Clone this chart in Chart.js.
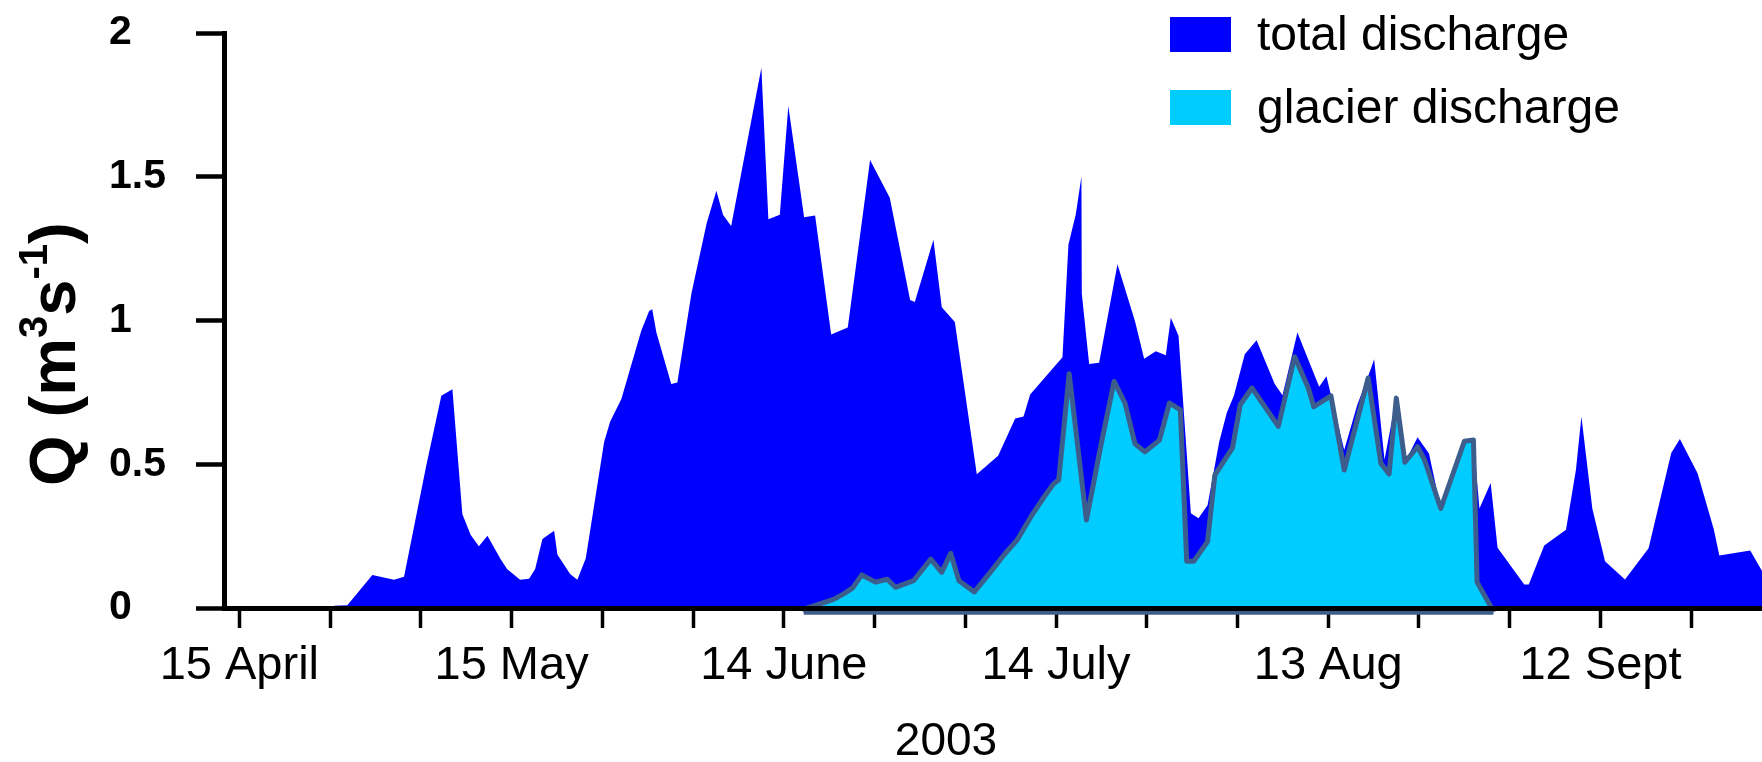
<!DOCTYPE html>
<html>
	<head>
		<meta charset="UTF-8">
		<title>total and glacier discharge 2003</title>
		<script src="https://cdn.jsdelivr.net/npm/chart.js"></script>
		<style>
		   *{padding: 0; margin: 0;}
		   body{background: #fff;}
		   #box{width: 1762px; height: 762px;}
		</style>
	</head>
	<body>
	<div id="box">
		<canvas id="myChart"></canvas>
	</div>
	<script>
	// x = days after 15 April 2003, y = Q (m3/s)
	const totalDay = [-1.7, 10.4, 10.45, 11.9, 14.66, 17.05, 18.15, 20.6, 22.26, 23.48, 24.58, 25.5, 26.4, 27.34, 28.8, 29.5,
		30.94, 31.93, 32.6, 33.4, 34.69, 35.05, 36.45, 37.25, 38.18, 40.2, 40.86, 42.1, 44.3, 45.16, 45.5, 45.96,
		47.6, 48.27, 49.82, 51.5, 52.57, 53.3, 54.2, 57.53, 58.3, 59.56, 60.5, 62.24, 63.45, 65.22, 67.05, 69.51,
		71.68, 73.92, 74.44, 76.49, 77.41, 78.85, 81.27, 83.62, 85.5, 86.42, 87.15, 90.71, 91.37, 92.18, 92.8, 92.84,
		93.65, 94.75, 96.77, 98.72, 99.71, 101.0, 102.1, 102.65, 103.5, 104.86, 105.7, 106.7, 107.98, 108.82, 109.6, 110.8,
		112.1, 114.1, 114.96, 116.6, 119.0, 119.8, 121.76, 123.2, 124.5, 125.06, 126.2, 127.5, 128.5, 129.84, 131.1, 132.4,
		135.0, 136.0, 136.66, 137.9, 138.66, 141.6, 142.1, 143.8, 146.2, 147.3, 147.9, 149.1, 150.5, 152.7, 155.3, 157.8,
		158.75, 160.7, 162.5, 163.1, 166.5, 167.8];
	const totalQ = [0, 0, 0.008, 0.01, 0.115, 0.098, 0.109, 0.496, 0.738, 0.761, 0.326, 0.254, 0.215, 0.251, 0.17, 0.136,
		0.098, 0.102, 0.136, 0.24, 0.269, 0.186, 0.118, 0.098, 0.173, 0.577, 0.648, 0.727, 0.965, 1.033, 1.039, 0.958,
		0.779, 0.784, 1.094, 1.338, 1.451, 1.368, 1.329, 1.879, 1.352, 1.368, 1.746, 1.359, 1.365, 0.951, 0.976, 1.558,
		1.427, 1.071, 1.064, 1.281, 1.046, 0.995, 0.465, 0.53, 0.659, 0.666, 0.743, 0.872, 1.264, 1.37, 1.501, 1.094,
		0.849, 0.853, 1.196, 0.996, 0.867, 0.893, 0.879, 1.01, 0.947, 0.33, 0.3125, 0.357, 0.577, 0.679, 0.738, 0.883,
		0.931, 0.779, 0.74, 0.958, 0.77, 0.806, 0.55, 0.707, 0.815, 0.865, 0.516, 0.734, 0.51, 0.594, 0.537, 0.346,
		0.584, 0.59, 0.346, 0.435, 0.21, 0.0815, 0.0815, 0.217, 0.272, 0.482, 0.666, 0.346, 0.163, 0.099, 0.208, 0.539,
		0.588, 0.469, 0.272, 0.183, 0.2, 0.129];

	const glacierDay = [62.2, 62.6, 65.5, 66.65, 67.6, 68.6, 70.1, 71.4, 72.3, 74.3, 76.2, 77.4, 78.4, 79.3, 81.0, 82.6,
		84.3, 85.75, 87.4, 88.7, 89.7, 90.3, 91.45, 93.35, 94.94, 96.4, 97.6, 98.7, 99.8, 101.4, 102.5, 103.7,
		104.4, 105.2, 106.7, 107.5, 109.45, 110.3, 111.6, 114.5, 116.3, 117.8, 118.4, 120.3, 121.76, 124.4, 125.8, 126.7,
		127.5, 128.45, 129.84, 130.6, 132.4, 135.0, 136.0, 136.4, 138.0, 138.2];
	const glacierQ = [-0.015, 0, 0.03, 0.05, 0.07, 0.115, 0.09, 0.1, 0.072, 0.095, 0.17, 0.124, 0.19, 0.095, 0.056, 0.118,
		0.186, 0.238, 0.326, 0.387, 0.431, 0.446, 0.815, 0.306, 0.564, 0.788, 0.713, 0.571, 0.543, 0.584, 0.713, 0.689,
		0.163, 0.163, 0.231, 0.462, 0.557, 0.707, 0.765, 0.632, 0.874, 0.765, 0.70, 0.738, 0.48, 0.80, 0.503, 0.466,
		0.73, 0.507, 0.561, 0.516, 0.346, 0.58, 0.584, 0.09, 0, -0.015];
	// closing edge of the glacier polygon, just under the axis
	const glacierBaseDay = [62.2, 138.2];
	const glacierBaseQ = [-0.015, -0.015];

	const tickDay = [0, 10, 20, 30, 40, 50, 60, 70, 80, 90, 100, 110, 120, 130, 140, 150, 160];
	const tickText = ['15 April', '', '', '15 May', '', '', '14 June', '', '', '14 July', '', '', '13 Aug', '', '', '12 Sept', ''];
	const yTickVal = [0, 0.5, 1, 1.5, 2];
	const yTickText = ['0', '0.5', '1', '1.5', '2'];
	const xTitle = '2003';

	const FONT = "'Liberation Sans', Arial, sans-serif";

	function toPoints(xs, ys){
		let arr = new Array();
		for(let i=0;i<xs.length;i++){
			arr.push({x: xs[i], y: ys[i]});
		}
		return arr;
	}

	// y title (with superscripts), x title and the legend are drawn here
	const textPlugin = {
		id: 'textPlugin',
		afterDraw(chart){
			const ctx = chart.ctx;
			ctx.save();
			ctx.fillStyle = '#000';
			ctx.textAlign = 'center';
			ctx.textBaseline = 'alphabetic';
			ctx.font = '46px ' + FONT;
			ctx.fillText(xTitle, 946, 755);

			ctx.save();
			ctx.translate(75, 486);
			ctx.rotate(-Math.PI / 2);
			ctx.textAlign = 'left';
			const parts = [['Q (m', 65, 0], ['3', 40, 28], ['s', 65, 0], ['-1', 40, 28], [')', 65, 0]];
			let px = 0;
			parts.forEach(function(p){
				ctx.font = 'bold ' + p[1] + 'px ' + FONT;
				ctx.fillText(p[0], px, -p[2]);
				px += ctx.measureText(p[0]).width;
			});
			ctx.restore();

			// legend
			let row = 0;
			chart.data.datasets.forEach(function(ds){
				if(!ds.label) return;
				const top = 17 + row * 73;
				ctx.fillStyle = ds.backgroundColor;
				ctx.fillRect(1170, top, 61, 35);
				ctx.fillStyle = '#000';
				ctx.font = '48px ' + FONT;
				ctx.textAlign = 'left';
				ctx.fillText(ds.label, 1257, top + 33);
				row++;
			});
			ctx.restore();
		}
	};

	const ctx = document.getElementById('myChart');
	new Chart(ctx, {
		type: 'line',
		data: {
			datasets: [{
				label: 'total discharge',
				data: toPoints(totalDay, totalQ),
				backgroundColor: '#0000ff',
				borderWidth: 0,
				fill: 'origin',
				pointRadius: 0,
				order: 3
			}, {
				label: 'glacier discharge',
				data: toPoints(glacierDay, glacierQ),
				backgroundColor: '#00ccff',
				borderColor: '#3d5e8c',
				borderWidth: 5,
				borderJoinStyle: 'round',
				fill: 'origin',
				pointRadius: 0,
				clip: false,
				order: 2
			}, {
				label: '',
				data: toPoints(glacierBaseDay, glacierBaseQ),
				borderColor: '#3d5e8c',
				borderWidth: 5,
				fill: false,
				pointRadius: 0,
				clip: false,
				order: 1
			}]
		},
		options: {
			responsive: true,
			maintainAspectRatio: false,
			animation: false,
			events: [],
			layout: {padding: {left: 109, top: 33, right: 0, bottom: 0}},
			plugins: {
				legend: {display: false},
				tooltip: {enabled: false}
			},
			scales: {
				x: {
					type: 'linear',
					min: -1.69,
					max: 167.8,
					afterBuildTicks: function(s){ s.ticks = tickDay.map(v => ({value: v})); },
					afterFit: function(s){ s.height = 154; s.paddingLeft = 0; s.paddingRight = 0; },
					ticks: {
						autoSkip: false,
						maxRotation: 0,
						minRotation: 0,
						padding: 10,
						color: '#000',
						font: {family: FONT, size: 47},
						callback: function(v, i){ return tickText[i]; }
					},
					grid: {drawOnChartArea: false, drawTicks: true, tickLength: 20, tickWidth: 3.5, tickColor: '#000'},
					border: {display: true, color: '#000', width: 5, z: 1}
				},
				y: {
					min: 0,
					max: 2,
					afterBuildTicks: function(s){ s.ticks = yTickVal.map(v => ({value: v})); },
					afterFit: function(s){ s.width = 115; s.paddingTop = 0; s.paddingBottom = 0; },
					ticks: {
						crossAlign: 'far',
						padding: 0,
						color: '#000',
						font: {family: FONT, size: 41, weight: 'bold'},
						callback: function(v, i){ return yTickText[i]; }
					},
					grid: {drawOnChartArea: false, drawTicks: true, tickLength: 28, tickWidth: 4.5, tickColor: '#000'},
					border: {display: true, color: '#000', width: 5, z: 1}
				}
			}
		},
		plugins: [textPlugin]
	});
	</script>
	</body>
</html>
